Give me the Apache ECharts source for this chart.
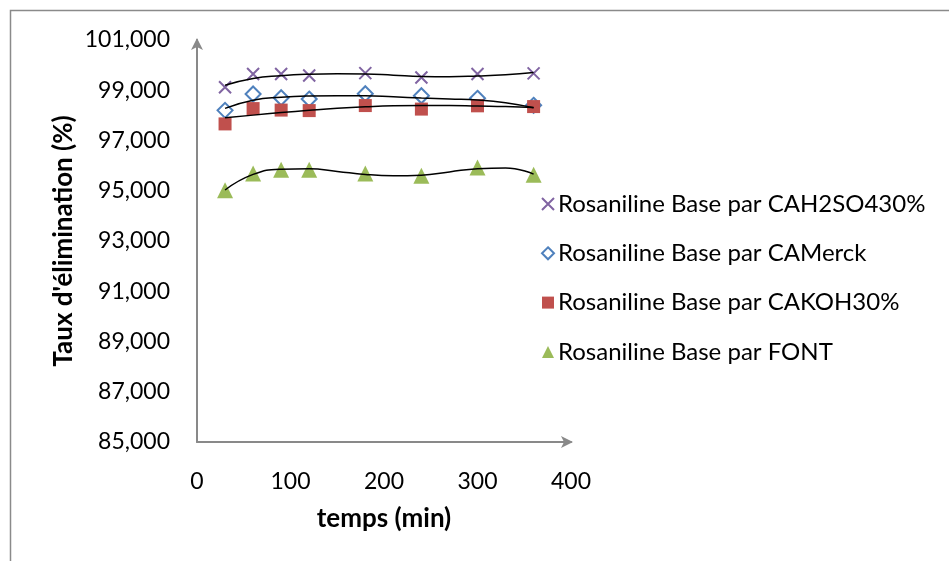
<!DOCTYPE html>
<html><head><meta charset="utf-8">
<script src="https://cdn.jsdelivr.net/npm/echarts@6/dist/echarts.min.js"></script>
<style>html,body{margin:0;padding:0;background:#fff}#c{width:949px;height:561px}</style>
</head><body><div id="c"></div>
<script>
const times = [30, 60, 90, 120, 180, 240, 300, 360];
const seriesNames = [
  'Rosaniline Base par CAH2SO430%',
  'Rosaniline Base par CAMerck',
  'Rosaniline Base par CAKOH30%',
  'Rosaniline Base par FONT'
];
const h2so4 = [99.12, 99.65, 99.65, 99.59, 99.68, 99.51, 99.65, 99.67];
const merck = [98.20, 98.85, 98.70, 98.65, 98.86, 98.78, 98.68, 98.40];
const koh   = [97.66, 98.27, 98.21, 98.19, 98.39, 98.25, 98.38, 98.35];
const font  = [95.02, 95.69, 95.84, 95.84, 95.69, 95.60, 95.93, 95.64];

// trend curves
const trendTimes = [30, 60, 90, 120, 150, 180, 210, 240, 270, 300, 330, 360];
const trendH2so4 = [99.20, 99.47, 99.58, 99.64, 99.66, 99.65, 99.60, 99.55, 99.54, 99.57, 99.62, 99.71];
const trendMerck = [98.28, 98.60, 98.72, 98.77, 98.78, 98.78, 98.74, 98.69, 98.65, 98.61, 98.50, 98.30];
const trendKoh   = [97.91, 98.01, 98.11, 98.20, 98.28, 98.34, 98.38, 98.39, 98.39, 98.37, 98.35, 98.31];
const trendFont  = [95.03, 95.65, 95.86, 95.88, 95.77, 95.65, 95.60, 95.62, 95.75, 95.88, 95.91, 95.66];

const xTicks = {min: 0, max: 400, step: 100};
const yTicks = {min: 85, max: 101, step: 2};

const colors = ['#8064A2', '#4F81BD', '#C0504D', '#9BBB59'];
const FONT = 'Lato, "Open Sans", sans-serif';

function pairs(xs, ys) { return xs.map((x, i) => [x, ys[i]]); }

const chart = echarts.init(document.getElementById('c'));
const scatterDefs = [
  {data: h2so4, symbol: 'path://M0,0L10,10M10,0L0,10', size: 12,
   style: {color: 'rgba(0,0,0,0)', borderColor: colors[0], borderWidth: 2, opacity: 1}},
  {data: merck, symbol: 'diamond', size: 15,
   style: {color: '#ffffff', borderColor: colors[1], borderWidth: 2, opacity: 1}},
  {data: koh, symbol: 'rect', size: 13,
   style: {color: colors[2], opacity: 1}},
  {data: font, symbol: 'triangle', size: 16,
   style: {color: colors[3], opacity: 1}}
];
const trends = [trendH2so4, trendMerck, trendKoh, trendFont];

const series = [];
trends.forEach((t, i) => {
  series.push({
    type: 'line', name: 'trend' + i, data: pairs(trendTimes, t), smooth: 0.5,
    showSymbol: false, symbol: 'none', silent: true, z: 3,
    lineStyle: {color: '#000', width: 1.5}
  });
});
scatterDefs.forEach((d, i) => {
  series.push({
    type: 'scatter', name: seriesNames[i], data: pairs(times, d.data),
    symbol: d.symbol, symbolSize: d.size, itemStyle: d.style, z: 2
  });
});

chart.setOption({
  animation: false,
  backgroundColor: '#fff',
  graphic: [{type: 'rect', shape: {x: 10.5, y: 10.5, width: 1000, height: 700},
    style: {fill: 'none', stroke: '#8a8a8a', lineWidth: 1.5}, silent: true}],
  grid: {left: 197, right: 378, top: 40, bottom: 119, containLabel: false},
  legend: {
    data: seriesNames.map((n, i) => ({name: n, icon: scatterDefs[i].symbol})),
    orient: 'vertical', left: 536, top: 185, itemGap: 21.3,
    itemWidth: 12, itemHeight: 12,
    textStyle: {fontFamily: FONT, fontSize: 24, color: '#000', lineHeight: 28, padding: [0, 0, 0, -1]}
  },
  xAxis: {
    type: 'value', min: xTicks.min, max: xTicks.max, interval: xTicks.step,
    name: 'temps (min)', nameLocation: 'middle', nameGap: 64,
    nameTextStyle: {fontFamily: FONT, fontSize: 26, fontWeight: 'bold', color: '#000'},
    axisLine: {show: true, symbol: ['none', 'arrow'], symbolSize: [9, 12], symbolOffset: [0, 2],
      lineStyle: {color: '#898989', width: 2}},
    axisTick: {show: false}, splitLine: {show: false},
    axisLabel: {fontFamily: FONT, fontSize: 23, color: '#000', margin: 28}
  },
  yAxis: {
    type: 'value', min: yTicks.min, max: yTicks.max, interval: yTicks.step,
    name: "Taux d'élimination (%)", nameLocation: 'middle', nameGap: 120, nameRotate: 90,
    nameTextStyle: {fontFamily: FONT, fontSize: 26, fontWeight: 'bold', color: '#000'},
    axisLine: {show: true, symbol: ['none', 'arrow'], symbolSize: [9, 12], symbolOffset: [0, 2],
      lineStyle: {color: '#898989', width: 2}},
    axisTick: {show: false}, splitLine: {show: false},
    axisLabel: {fontFamily: FONT, fontSize: 23, color: '#000', margin: 27,
      formatter: v => v.toFixed(3).replace('.', ',')}
  },
  series: series
});
</script></body></html>
